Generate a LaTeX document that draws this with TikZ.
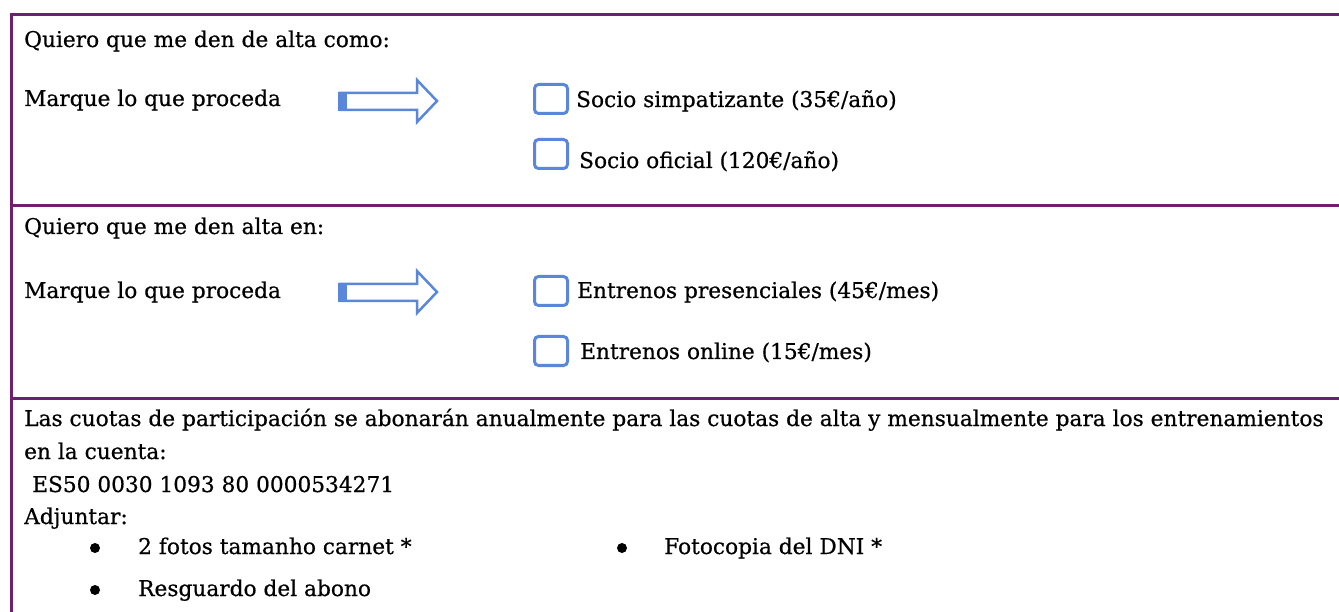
\documentclass[tikz,border=0pt]{standalone}
\usepackage{fontspec}
\setmainfont[FakeBold=0.6]{DejaVu Serif}
\definecolor{framec}{RGB}{112,30,110}
\definecolor{blu}{RGB}{91,135,218}
\begin{document}
\begin{tikzpicture}[x=1pt,y=-1pt,
  txt/.style={anchor=base west, inner sep=0pt, font=\fontsize{21.7}{26}\selectfont},
  cbox/.style={draw=blu, line width=3pt, rounded corners=4pt, minimum width=33pt, minimum height=29pt, inner sep=0pt},
  rulec/.style={draw=framec, line width=3pt},
  dotc/.style={circle, fill=black, inner sep=0pt, minimum size=10pt},
  bigarrow/.style={draw=blu, line width=2.5pt, fill=white, line join=miter}]
\useasboundingbox (0,0) rectangle (1339,612);
% frame lines
\draw[rulec] (11,15) -- (11,612);
\draw[rulec] (9.5,15) -- (1339,15);
\draw[rulec] (9.5,206) -- (1339,206);
\draw[rulec] (9.5,398) -- (1339,398);
% section 1
\node[txt] (t1) at (24,47) {Quiero que me den de alta como:};
\node[txt] (m1) at (24,106) {Marque lo que proceda};
\draw[bigarrow] (340,93) -- (417,93) -- (417,80) -- (437,101) -- (417,122) -- (417,110) -- (340,110) -- cycle;
\fill[blu] (338,92) rectangle (347,111.5);
\node[cbox] (b1) at (551,99) {};
\node[txt] (s1) at (576,107) {Socio simpatizante (35€/año)};
\node[cbox] (b2) at (551,154) {};
\node[txt] (s2) at (579,168) {Socio oficial (120€/año)};
% section 2
\node[txt] (t2) at (24,234) {Quiero que me den alta en:};
\node[txt] (m2) at (24,298) {Marque lo que proceda};
\draw[bigarrow] (340,284) -- (417,284) -- (417,271) -- (437,292) -- (417,313) -- (417,301) -- (340,301) -- cycle;
\fill[blu] (338,283) rectangle (347,302.5);
\node[cbox] (b3) at (551,291) {};
\node[txt] (e1) at (577,298) {Entrenos presenciales (45€/mes)};
\node[cbox] (b4) at (551,351) {};
\node[txt] (e2) at (580,359) {Entrenos online (15€/mes)};
% section 3
\node[txt] (l1) at (24,426) {Las cuotas de participación se abonarán anualmente para las cuotas de alta y mensualmente para los entrenamientos};
\node[txt] (l2) at (24,459) {en la cuenta:};
\node[txt] (l3) at (32,492) {ES50 0030 1093 80 0000534271};
\node[txt] (l4) at (24,524) {Adjuntar:};
\node[dotc] (d1) at (95,548) {};
\node[txt] (a1) at (138,554) {2 fotos tamanho carnet *};
\node[dotc] (d2) at (622,548) {};
\node[txt] (a2) at (664,554) {Fotocopia del DNI *};
\node[dotc] (d3) at (95,590) {};
\node[txt] (a3) at (138,596) {Resguardo del abono};
\end{tikzpicture}
\end{document}
